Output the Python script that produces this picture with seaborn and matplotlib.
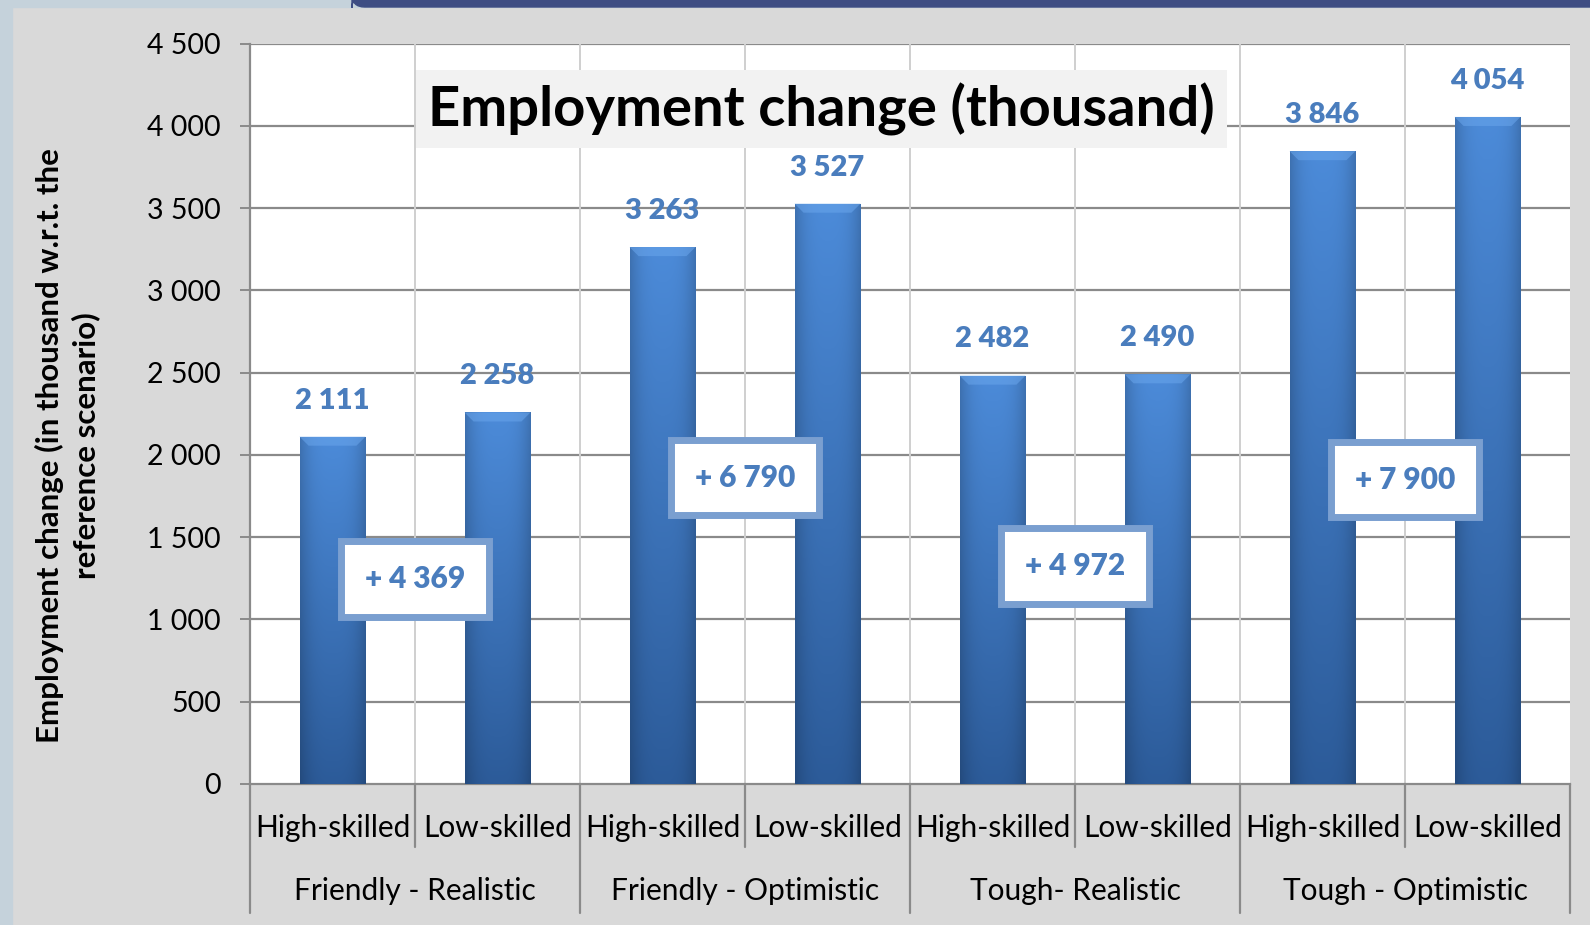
import numpy as np
import pandas as pd
import matplotlib.pyplot as plt
import seaborn as sns
from matplotlib.patches import Rectangle, FancyBboxPatch, Polygon
import matplotlib.transforms as mtransforms

# data
scenarios = ['Friendly - Realistic', 'Friendly - Optimistic', 'Tough- Realistic', 'Tough - Optimistic']
skills = ['High-skilled', 'Low-skilled']
high_skilled = [2111, 3263, 2482, 3846]
low_skilled = [2258, 3527, 2490, 4054]
totals = [4369, 6790, 4972, 7900]
total_box_y = [1245, 1862, 1325, 1850]

rows = []
for i, sc in enumerate(scenarios):
    rows.append({'key': f'{sc}|{skills[0]}', 'scenario': sc, 'skill': skills[0], 'value': high_skilled[i]})
    rows.append({'key': f'{sc}|{skills[1]}', 'scenario': sc, 'skill': skills[1], 'value': low_skilled[i]})
df = pd.DataFrame(rows)

sns.set_theme(style='white')
plt.rcParams['font.family'] = ['Lato', 'DejaVu Sans']

BG = '#d9d9d9'
BAR_BLUE = '#3b74bf'
LABEL_BLUE = '#4a7dbd'

fig = plt.figure(figsize=(15.9, 9.25), dpi=100, facecolor=BG)
ax = fig.add_axes([250 / 1590, 1 - 784 / 925, 1320 / 1590, 740.5 / 925])
ax.set_facecolor('white')

# frame decorations of the slide
fig.patches.append(Rectangle((0, 0), 12 / 1590, 1, transform=fig.transFigure, color='#c5d2db', zorder=0))
fig.patches.append(Rectangle((0, 1 - 7 / 925), 1, 7 / 925, transform=fig.transFigure, color='#c5d2db', zorder=0))
fig.patches.append(FancyBboxPatch((352 / 1590, 1 - 7 / 925), 1, 12 / 925, transform=fig.transFigure,
                                  boxstyle='round,pad=0,rounding_size=0.008', color='#3e4d83', zorder=1,
                                  mutation_aspect=1590 / 925))

sns.barplot(data=df, x='key', y='value', order=df['key'], color=BAR_BLUE, width=0.4,
            saturation=1, errorbar=None, ax=ax, zorder=3)

# gradient fill + top bevel on each bar
top = np.array([0x4c, 0x8b, 0xd9]) / 255
bot = np.array([0x2c, 0x5b, 0x99]) / 255
vert = np.linspace(0, 1, 200)[:, None, None]
horiz = 1 - 0.18 * np.abs(np.linspace(-1, 1, 60))[None, :, None] ** 3
grad = (top * (1 - vert) + bot * vert) * horiz
bev_dx, bev_dy = 0.055, 55
for p in list(ax.patches):
    x0, y0, w, h = p.get_x(), p.get_y(), p.get_width(), p.get_height()
    im = ax.imshow(np.clip(grad, 0, 1), extent=[x0, x0 + w, y0, y0 + h], aspect='auto', zorder=3.5)
    im.set_clip_path(p)
    p.set_edgecolor('none')
    y1 = y0 + h
    ax.add_patch(Polygon([(x0, y1), (x0 + w, y1), (x0 + w - bev_dx, y1 - bev_dy), (x0 + bev_dx, y1 - bev_dy)],
                         closed=True, facecolor='#6aa6ec', alpha=0.55, edgecolor='none', zorder=3.6))

ax.set_xlim(-0.5, len(df) - 0.5)
ax.set_ylim(0, 4500)
ax.set_yticks(np.arange(0, 4501, 500))
ax.set_yticklabels([f'{v:,}'.replace(',', ' ') for v in range(0, 4501, 500)], fontsize=20.5)

# grid
for v in range(500, 4501, 500):
    ax.axhline(v, color='#8a8a8a', lw=1.6, zorder=1)
for k in range(1, len(df)):
    ax.axvline(k - 0.5, color='#cfcfcf', lw=1.4, zorder=1)

for s in ['top', 'right']:
    ax.spines[s].set_visible(False)
ax.spines['left'].set_color('#8a8a8a')
ax.spines['left'].set_linewidth(1.6)
ax.spines['bottom'].set_color('#8a8a8a')
ax.spines['bottom'].set_linewidth(1.6)
ax.tick_params(axis='y', direction='out', length=7, width=1.4, color='#8a8a8a', pad=14, left=True, labelcolor='black')

# two-level category axis
ax.set_xticks([])
ax.set_xlabel('')
trans = mtransforms.blended_transform_factory(ax.transData, ax.transAxes)
px = 1 / 740.5
for k in range(len(df) + 1):
    long = k % 2 == 0
    y_end = -(129 if long else 63) * px
    ax.plot([k - 0.5, k - 0.5], [0, y_end], transform=trans, color='#8a8a8a', lw=1.6, clip_on=False)
for k, sk in enumerate(df['skill']):
    ax.text(k, -44 * px, sk, transform=trans, ha='center', va='center', fontsize=21.5, color='black')
for g, sc in enumerate(scenarios):
    ax.text(2 * g + 0.5, -107 * px, sc, transform=trans, ha='center', va='center', fontsize=21.5, color='black')

# value labels
for k, v in enumerate(df['value']):
    ax.annotate(f'{v:,}'.replace(',', ' '), (k, v), xytext=(0, 26), textcoords='offset points',
                ha='center', va='center', fontsize=21, fontweight='heavy', color=LABEL_BLUE, zorder=5)

# group total boxes
for g, (t, yb) in enumerate(zip(totals, total_box_y)):
    ax.text(2 * g + 0.5, yb, '+ ' + f'{t:,}'.replace(',', ' '), ha='center', va='center',
            fontsize=21.5, fontweight='heavy', color=LABEL_BLUE, zorder=6,
            bbox=dict(boxstyle='square,pad=0.8', facecolor='white', edgecolor='#7a9fd0', linewidth=5))

# title box
ax.text(0.433, 0.9115, 'Employment change (thousand)', transform=ax.transAxes, ha='center', va='center',
        fontsize=40.5, fontweight='bold', color='black', zorder=6,
        bbox=dict(boxstyle='square,pad=0.22', facecolor='#f2f2f2', edgecolor='none'))

ax.set_ylabel('Employment change (in thousand w.r.t. the\nreference scenario)', fontsize=22.5,
              fontweight='bold', color='black', linespacing=1.3)
ax.yaxis.set_label_coords(-0.1136, 0.457)

fig.savefig('out.png', dpi=100, facecolor=BG)
